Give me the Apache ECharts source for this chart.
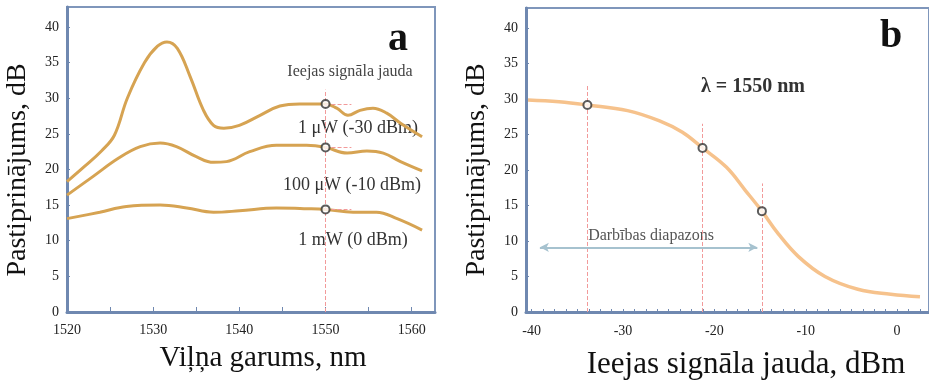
<!DOCTYPE html>
<html>
<head>
<meta charset="utf-8">
<script src="https://cdn.jsdelivr.net/npm/echarts@6/dist/echarts.min.js"></script>
<style>
  html, body { margin: 0; padding: 0; background: #fff; }
  #chart { width: 929px; height: 382px; }
</style>
</head>
<body>
<div id="chart"></div>
<script>
// panel a: gain vs wavelength for three input powers
const lam30 = [1520, 1522, 1524, 1525.5, 1527, 1529, 1530.5, 1531.6, 1532.8, 1534.3, 1535.8, 1537, 1538.2, 1540, 1542.4, 1544.7, 1547, 1550, 1551.3, 1552.6, 1554, 1555.5, 1557.1, 1558.7, 1561.2];
const gain30 = [18.3, 20.4, 22.6, 24.8, 30.0, 35.0, 37.3, 37.9, 37.0, 33.0, 28.4, 26.2, 25.8, 26.2, 27.6, 28.9, 29.2, 29.2, 28.6, 27.6, 28.3, 28.6, 27.9, 26.5, 24.6];
const lam10 = [1520, 1523, 1526, 1528.5, 1530.8, 1532.7, 1535, 1537, 1538.5, 1541.2, 1544.3, 1547.8, 1550, 1552.5, 1554.8, 1556.7, 1558.7, 1561.2];
const gain10 = [16.4, 19.0, 21.6, 23.2, 23.7, 23.2, 21.8, 21.0, 21.1, 22.5, 23.4, 23.4, 23.1, 22.3, 22.6, 22.3, 21.1, 19.8];
const lam0 = [1520, 1523.8, 1526.9, 1530.8, 1533.9, 1537, 1540, 1544.3, 1547.5, 1550, 1553.2, 1555.9, 1558.3, 1561.2];
const gain0 = [13.1, 14.0, 14.8, 15.0, 14.6, 14.0, 14.2, 14.6, 14.5, 14.4, 14.0, 14.0, 13.1, 11.5];
const markA = [29.2, 23.1, 14.4];
const lamTicks = [1520, 1525, 1530, 1535, 1540, 1545, 1550, 1555, 1560];
const lamLabels = [1520, 1530, 1540, 1550, 1560];

// panel b: gain vs input power at 1550 nm
const pin = [-40.4, -37, -33.9, -29.5, -26, -23.5, -21.3, -18.7, -16.6, -14.8, -13, -10.8, -7.9, -4.3, -0.7, 2.5];
const gainB = [29.85, 29.6, 29.15, 28.35, 26.9, 25.3, 23.1, 20.4, 17.1, 14.2, 11.0, 7.8, 5.0, 3.2, 2.5, 2.15];
const markPin = [-33.9, -21.3, -14.8];
const markGain = [29.15, 23.1, 14.2];
const dashTopB = [32.1, 26.5, 18.1];
const rangeB = [-39.1, -15.3];
const rangeY = 9.1;
const pinLabels = [-40, -30, -20, -10, 0];
const gainLabels = [0, 5, 10, 15, 20, 25, 30, 35, 40];

const pinTicks = [];
for (let v = -40; v <= 2.5; v += 1.25) pinTicks.push(v);

const zip = (xs, ys) => xs.map((x, i) => [x, ys[i]]);

const serif = '"Liberation Serif", "Times New Roman", serif';
const frame = '#6f88b0';
const goldLine = '#d6a352';
const dashRed = '#f29a9a';

const yAxisBase = (grid) => ({
    type: 'value', gridIndex: grid, min: 0, max: 42.8,
    axisLine: { show: true, onZero: false, lineStyle: { color: frame, width: 3 } },
    axisTick: { show: true, inside: true, length: 3, customValues: gainLabels, lineStyle: { color: frame } },
    axisLabel: { customValues: gainLabels, margin: 8, fontFamily: serif, fontSize: 14, color: '#222' },
    splitLine: { show: false }
});

const vDash = (x, top) => [{ coord: [x, 0] }, { coord: [x, top] }];
const hDash = (x1, x2, y) => [{ coord: [x1, y] }, { coord: [x2, y] }];

const chart = echarts.init(document.getElementById('chart'));
chart.setOption({
    animation: false,
    backgroundColor: '#fff',
    grid: [
        { left: 67, top: 7, width: 368, height: 305, show: true, borderColor: '#7f96bb', borderWidth: 2 },
        { left: 526, top: 8, width: 408, height: 304, show: true, borderColor: '#7f96bb', borderWidth: 2 }
    ],
    xAxis: [
        {
            type: 'value', gridIndex: 0, min: 1520, max: 1562.7,
            axisLine: { show: true, onZero: false, lineStyle: { color: frame, width: 3 } },
            axisTick: { show: true, inside: true, length: 5, customValues: lamTicks, lineStyle: { color: frame } },
            axisLabel: { customValues: lamLabels, margin: 11, fontFamily: serif, fontSize: 14, color: '#222', formatter: v => String(v) },
            splitLine: { show: false }
        },
        {
            type: 'value', gridIndex: 1, min: -40.62, max: 3.49,
            axisLine: { show: true, onZero: false, lineStyle: { color: frame, width: 3 } },
            axisTick: { show: true, inside: true, length: 3, customValues: pinTicks, lineStyle: { color: frame } },
            axisLabel: { customValues: pinLabels, margin: 12, fontFamily: serif, fontSize: 14, color: '#222', formatter: v => String(v) },
            splitLine: { show: false }
        }
    ],
    yAxis: [yAxisBase(0), yAxisBase(1)],
    series: [
        {
            type: 'line', xAxisIndex: 0, yAxisIndex: 0, data: zip(lam30, gain30),
            smooth: 0.4, showSymbol: false, lineStyle: { color: goldLine, width: 3 },
            markLine: {
                silent: true, symbol: 'none', label: { show: false },
                lineStyle: { color: dashRed, type: 'dashed', width: 1 },
                data: [
                    vDash(1550, 31.2),
                    hDash(1550, 1553, markA[0]),
                    hDash(1550, 1553, markA[1]),
                    hDash(1550, 1553, markA[2])
                ]
            }
        },
        {
            type: 'line', xAxisIndex: 0, yAxisIndex: 0, data: zip(lam10, gain10),
            smooth: 0.4, showSymbol: false, lineStyle: { color: goldLine, width: 3 }
        },
        {
            type: 'line', xAxisIndex: 0, yAxisIndex: 0, data: zip(lam0, gain0),
            smooth: 0.4, showSymbol: false, lineStyle: { color: goldLine, width: 3 }
        },
        {
            type: 'scatter', xAxisIndex: 0, yAxisIndex: 0,
            data: markA.map(g => [1550, g]),
            symbol: 'circle', symbolSize: 8,
            itemStyle: { color: '#fff', borderColor: '#333', borderWidth: 2 }, z: 5
        },
        {
            type: 'line', xAxisIndex: 1, yAxisIndex: 1, data: zip(pin, gainB),
            smooth: 0.4, showSymbol: false, lineStyle: { color: '#f6c28c', width: 3.5 },
            markLine: {
                silent: true, symbol: 'none', label: { show: false },
                lineStyle: { color: dashRed, type: 'dashed', width: 1 },
                data: markPin.map((x, i) => vDash(x, dashTopB[i]))
            }
        },
        {
            // operating range arrow
            type: 'line', xAxisIndex: 1, yAxisIndex: 1, data: [],
            markLine: {
                silent: true, symbol: ['arrow', 'arrow'], symbolSize: [7, 9], label: { show: false },
                lineStyle: { color: '#a6c2cf', type: 'solid', width: 2 },
                data: [hDash(rangeB[0], rangeB[1], rangeY)]
            }
        },
        {
            type: 'scatter', xAxisIndex: 1, yAxisIndex: 1,
            data: zip(markPin, markGain),
            symbol: 'circle', symbolSize: 8,
            itemStyle: { color: '#fff', borderColor: '#333', borderWidth: 2 }, z: 5
        }
    ],
    graphic: [
        { type: 'text', x: 18, y: 170, rotation: Math.PI / 2, style: { text: 'Pastiprinājums, dB', font: '28px ' + serif, fill: '#111', align: 'center', verticalAlign: 'middle' } },
        { type: 'text', x: 477, y: 170, rotation: Math.PI / 2, style: { text: 'Pastiprinājums, dB', font: '28px ' + serif, fill: '#111', align: 'center', verticalAlign: 'middle' } },
        { type: 'text', x: 263, y: 358, style: { text: 'Viļņa garums, nm', font: '29px ' + serif, fill: '#111', align: 'center', verticalAlign: 'middle' } },
        { type: 'text', x: 746, y: 365, style: { text: 'Ieejas signāla jauda, dBm', font: '31px ' + serif, fill: '#111', align: 'center', verticalAlign: 'middle' } },
        { type: 'text', x: 398, y: 40, style: { text: 'a', font: 'bold 40px ' + serif, fill: '#111', align: 'center', verticalAlign: 'middle' } },
        { type: 'text', x: 891, y: 37, style: { text: 'b', font: 'bold 40px ' + serif, fill: '#111', align: 'center', verticalAlign: 'middle' } },
        { type: 'text', x: 350, y: 72, style: { text: 'Ieejas signāla jauda', font: '16px ' + serif, fill: '#444', align: 'center', verticalAlign: 'middle' } },
        { type: 'text', x: 358, y: 128, style: { text: '1 μW (-30 dBm)', font: '18px ' + serif, fill: '#333', align: 'center', verticalAlign: 'middle' } },
        { type: 'text', x: 352, y: 185, style: { text: '100 μW (-10 dBm)', font: '18px ' + serif, fill: '#333', align: 'center', verticalAlign: 'middle' } },
        { type: 'text', x: 353, y: 240, style: { text: '1 mW (0 dBm)', font: '18px ' + serif, fill: '#333', align: 'center', verticalAlign: 'middle' } },
        { type: 'text', x: 753, y: 87, style: { text: 'λ = 1550 nm', font: 'bold 20px ' + serif, fill: '#333', align: 'center', verticalAlign: 'middle' } },
        { type: 'text', x: 651, y: 236, style: { text: 'Darbības diapazons', font: '16px ' + serif, fill: '#555', align: 'center', verticalAlign: 'middle' } }
    ]
});
</script>
</body>
</html>
